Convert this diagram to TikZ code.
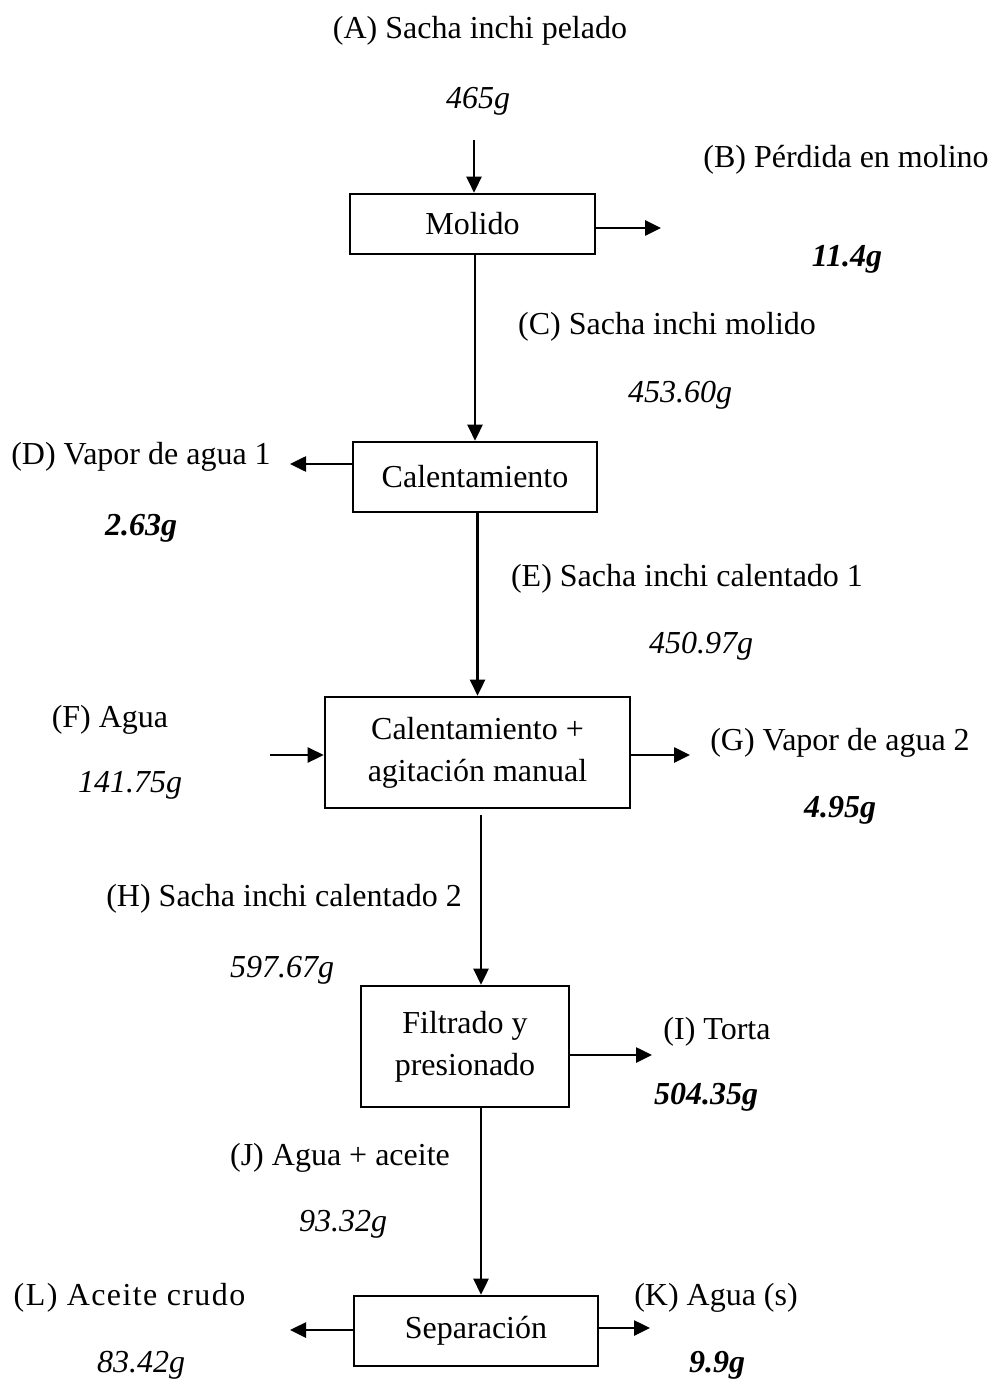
\documentclass[tikz,border=0pt]{standalone}
\usepackage{fontspec}
\setmainfont{Liberation Serif}
\usetikzlibrary{arrows.meta}
\begin{document}
\begin{tikzpicture}[x=0.5pt,y=-0.5pt,
  every node/.style={font=\fontsize{16}{21}\selectfont},
  proc/.style={draw,line width=1.3pt,align=center,inner sep=0pt},
  lbl/.style={inner sep=0pt,anchor=base},
  mass/.style={lbl,font=\fontsize{16}{21}\selectfont\itshape},
  loss/.style={lbl,font=\fontsize{16}{21}\selectfont\bfseries\itshape},
  arr/.style={line width=1.3pt,-{Triangle[length=8pt,width=7.5pt]}}]
\useasboundingbox (0,0) rectangle (994,1379);

% process boxes
\node[proc,minimum width=122.5pt,minimum height=30pt] (molido) at (472.5,224) {Molido};
\node[proc,minimum width=122pt,minimum height=35pt] (cal) at (475,477) {Calentamiento};
\node[proc,minimum width=152.5pt,minimum height=55.5pt] (agit) at (477.5,752.5) {Calentamiento +\\agitación manual};
\node[proc,minimum width=104pt,minimum height=60.5pt] (filt) at (465,1046.5) {Filtrado y\\presionado};
\node[proc,minimum width=122pt,minimum height=35pt] (sep) at (476,1331) {Separación};

% stream labels
\node[lbl] (la) at (480,39) {(A) Sacha inchi pelado};
\node[mass] (ma) at (478,109) {465g};
\node[lbl] (lb) at (846,168) {(B) Pérdida en molino};
\node[loss] (mb) at (847,267) {11.4g};
\node[lbl] (lc) at (667,335) {(C) Sacha inchi molido};
\node[mass] (mc) at (680,402) {453.60g};
\node[lbl] (ld) at (141,464) {(D) Vapor de agua 1};
\node[loss] (md) at (141,535) {2.63g};
\node[lbl] (le) at (687,586) {(E) Sacha inchi calentado 1};
\node[mass] (me) at (701,653) {450.97g};
\node[lbl] (lf) at (110,727) {(F) Agua};
\node[mass] (mf) at (130,792) {141.75g};
\node[lbl] (lg) at (840,750) {(G) Vapor de agua 2};
\node[loss] (mg) at (840,817) {4.95g};
\node[lbl] (lh) at (284,906) {(H) Sacha inchi calentado 2};
\node[mass] (mh) at (282,977) {597.67g};
\node[lbl] (li) at (717,1039) {(I) Torta};
\node[loss] (mi) at (706,1104) {504.35g};
\node[lbl] (lj) at (340,1165) {(J) Agua + aceite};
\node[mass] (mj) at (343,1231) {93.32g};
\node[lbl] (ll) at (129.5,1305) {\addfontfeature{LetterSpace=4.4}(L) Aceite crudo};
\node[mass] (ml) at (141,1372) {83.42g};
\node[lbl] (lk) at (716,1305) {(K) Agua (s)};
\node[loss] (mk) at (717,1372) {9.9g};

% free ends of the streams
\coordinate (a0) at (474,140);
\coordinate (b1) at (661,228);
\coordinate (d1) at (290,464);
\coordinate (f0) at (270,755);
\coordinate (g1) at (690,755);
\coordinate (h0) at (481,815);
\coordinate (i1) at (652,1055);
\coordinate (j0) at (481,1107);
\coordinate (l1) at (290,1330);
\coordinate (k1) at (650,1328);

% streams
\draw[arr] (a0) -- (a0 |- molido.north);
\draw[arr] (molido.east |- b1) -- (b1);
\draw[arr] (cal.north |- molido.south) -- (cal.north);
\draw[arr] (cal.west |- d1) -- (d1);
\draw[arr] (agit.north |- cal.south) -- (agit.north);
\draw[arr] (f0) -- (agit.west |- f0);
\draw[arr] (agit.east |- g1) -- (g1);
\draw[arr] (h0) -- (h0 |- filt.north);
\draw[arr] (filt.east |- i1) -- (i1);
\draw[arr] (j0 |- filt.south) -- (j0 |- sep.north);
\draw[arr] (sep.west |- l1) -- (l1);
\draw[arr] (sep.east |- k1) -- (k1);
\end{tikzpicture}
\end{document}
